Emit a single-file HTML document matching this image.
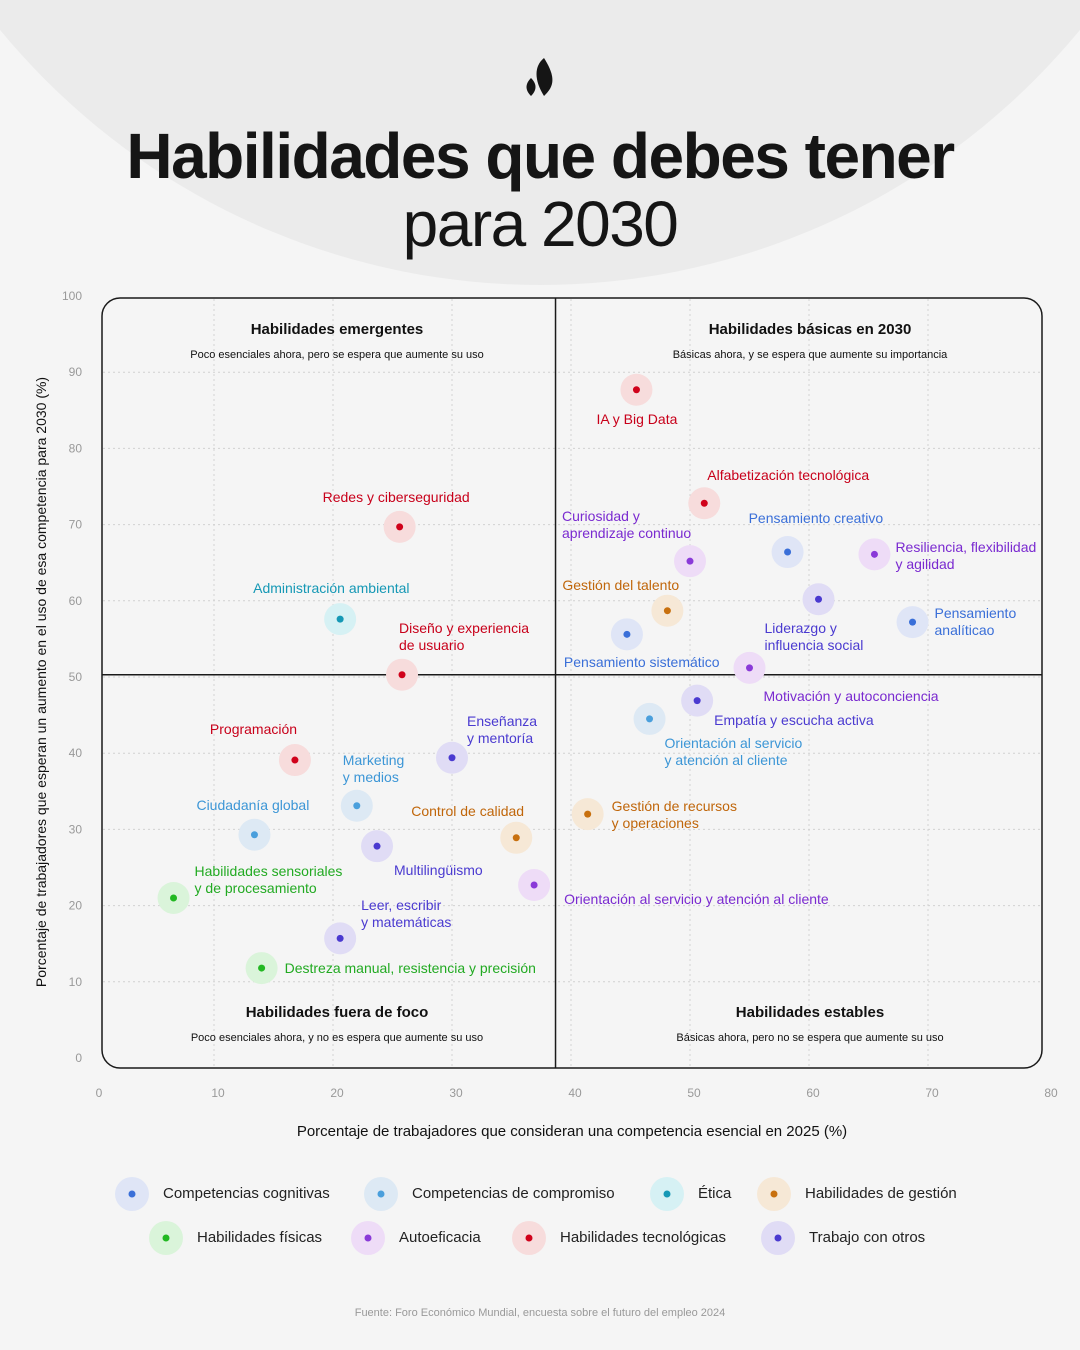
<!DOCTYPE html>
<html><head><meta charset="utf-8">
<style>
html,body{margin:0;padding:0}
body{width:1080px;height:1350px;position:relative;overflow:hidden;background:#f5f5f5;font-family:"Liberation Sans",sans-serif;color:#111}
#arcwrap{position:absolute;left:0;top:0;width:1080px;height:1350px;overflow:hidden}
#arc{position:absolute;left:-159px;top:-1113px;width:1398px;height:1398px;border-radius:50%;background:#ebebeb}
h1{position:absolute;left:0;width:1080px;top:122px;margin:0;text-align:center;font-size:64px;line-height:68px;font-weight:bold;letter-spacing:-1.5px;color:#151515}
h1 span{font-weight:normal}
.lbl{position:absolute;font-size:14px;line-height:17px;white-space:nowrap}
.legend{position:absolute;font-size:15px;color:#222}
</style></head><body>
<div id="arcwrap"><div id="arc"></div></div>
<svg style="position:absolute;left:522px;top:58px" width="36" height="40" viewBox="0 0 36 40">
<path d="M22 0 C12 8 12 22 22 38 C30 30 36 22 22 0Z" fill="#151515"/>
<path d="M9 20 C3 26 3 32 9 38 C15 32 15 26 9 20Z" fill="#151515"/>
</svg>
<h1>Habilidades que debes tener<br><span>para 2030</span></h1>
<svg id="chart" style="position:absolute;left:0;top:0" width="1080" height="1350"></svg>
<div id="labels"></div>
<div style="position:absolute;left:0;width:1080px;top:1307px;text-align:center;font-size:11px;color:#999">Fuente: Foro Económico Mundial, encuesta sobre el futuro del empleo 2024</div>
<script>
const xTicks=[0,10,20,30,40,50,60,70,80];
const yTicks=[0,10,20,30,40,50,60,70,80,90,100];
const names=["IA y Big Data","Alfabetización tecnológica","Redes y ciberseguridad","Administración ambiental","Diseño y experiencia<br>de usuario","Curiosidad y<br>aprendizaje continuo","Pensamiento creativo","Resiliencia, flexibilidad<br>y agilidad","Gestión del talento","Liderazgo y<br>influencia social","Pensamiento<br>analíticao","Pensamiento sistemático","Motivación y autoconciencia","Empatía y escucha activa","Orientación al servicio<br>y atención al cliente","Programación","Enseñanza<br>y mentoría","Marketing<br>y medios","Ciudadanía global","Control de calidad","Multilingüismo","Gestión de recursos<br>y operaciones","Orientación al servicio y atención al cliente","Habilidades sensoriales<br>y de procesamiento","Leer, escribir<br>y matemáticas","Destreza manual, resistencia y precisión"];
const xValues=[45.5,51.2,25.6,20.6,25.8,50,58.2,65.5,48.1,60.8,68.7,44.7,55,50.6,46.6,16.8,30,22,13.4,35.4,23.7,41.4,36.9,6.6,20.6,14];
const yValues=[87.7,72.8,69.7,57.6,50.3,65.2,66.4,66.1,58.7,60.2,57.2,55.6,51.2,46.9,44.5,39.1,39.4,33.1,29.3,28.9,27.8,32,22.7,21,15.7,11.8];
const groups=[6,6,6,2,6,5,0,5,3,7,0,0,5,7,1,6,7,1,1,3,7,3,5,4,7,4];
const labelDx=[-40,3,-77,-87,-3,-128,-39,21,-105,-54,22,-63,14,17,15,-85,15,-14,-58,-105,17,24,30,21,21,23];
const labelDy=[21,-36,-38,-39,-55,-53,-42,-15,-34,21,-17,20,20,11,16,-39,-45,-54,-38,-35,16,-16,6,-35,-41,-8];
const groupNames=["Competencias cognitivas","Competencias de compromiso","Ética","Habilidades de gestión","Habilidades físicas","Autoeficacia","Habilidades tecnológicas","Trabajo con otros"];
const dotColors=["#3a6fd8","#4a9fdc","#1598b5","#c8700e","#22b822","#8a3ad8","#d0021b","#4a3ad0"];
const haloColors=["#dfe5f6","#dde9f4","#d6f1f4","#f6e8d6","#daf4da","#eedcf7","#f7dcdc","#e0dcf5"];
const textColors=["#3a6fd8","#3c96d6","#1598b5","#c0660a","#22aa22","#7a2ad0","#c8001a","#4a3ad0"];
const xs=v=>95+11.9*v, ys=v=>1058-7.62*v;
const svg=document.getElementById('chart'), NS="http://www.w3.org/2000/svg";
function mk(t,a){const e=document.createElementNS(NS,t);for(const k in a)e.setAttribute(k,a[k]);svg.appendChild(e);return e;}
xTicks.forEach(t=>{if(t>0&&t<80){const l=mk('line',{x1:xs(t),x2:xs(t),y1:299,y2:1067,stroke:'#d2d2d2','stroke-dasharray':'2 3'});

}
const tx=mk('text',{x:xs(t)+4,y:1097,'font-size':12,fill:'#999','text-anchor':'middle'});tx.textContent=t;

});
yTicks.forEach(t=>{if(t>0&&t<100){const l=mk('line',{x1:103,x2:1041,y1:ys(t),y2:ys(t),stroke:'#d2d2d2','stroke-dasharray':'2 3'});

}
const tx=mk('text',{x:82,y:ys(t)+4,'font-size':12,fill:'#999','text-anchor':'end'});tx.textContent=t;

});
const box=mk('rect',{x:102,y:298,width:940,height:770,rx:18,fill:'none',stroke:'#1a1a1a','stroke-width':1.5});


const vx=xs(38.7), hy=ys(50.3);
const dv=mk('line',{x1:vx,x2:vx,y1:298,y2:1068,stroke:'#1a1a1a','stroke-width':1.5});


const dh=mk('line',{x1:102,x2:1042,y1:hy,y2:hy,stroke:'#1a1a1a','stroke-width':1.5});


const quads=[[337,329,"Habilidades emergentes","Poco esenciales ahora, pero se espera que aumente su uso"],[810,329,"Habilidades básicas en 2030","Básicas ahora, y se espera que aumente su importancia"],[337,1012,"Habilidades fuera de foco","Poco esenciales ahora, y no es espera que aumente su uso"],[810,1012,"Habilidades estables","Básicas ahora, pero no se espera que aumente su uso"]];
quads.forEach(q=>{const a=mk('text',{x:q[0],y:q[1]+5,'font-size':15,'font-weight':'bold','text-anchor':'middle',fill:'#111'});a.textContent=q[2];


const b=mk('text',{x:q[0],y:q[1]+29,'font-size':11,'text-anchor':'middle',fill:'#111'});b.textContent=q[3];

});
const xt=mk('text',{x:572,y:1136,'font-size':15,'text-anchor':'middle',fill:'#111'});xt.textContent="Porcentaje de trabajadores que consideran una competencia esencial en 2025 (%)";


const yt=mk('text',{x:0,y:0,'font-size':14,'text-anchor':'middle',fill:'#111',transform:'translate(46,682) rotate(-90)'});yt.textContent="Porcentaje de trabajadores que esperan un aumento en el uso de esa competencia para 2030 (%)";


const L=document.getElementById('labels');
xValues.forEach((v,i)=>{const cx=xs(v),cy=ys(yValues[i]),g=groups[i];
const h=mk('circle',{cx:cx,cy:cy,r:16,fill:haloColors[g]});


const d=mk('circle',{cx:cx,cy:cy,r:3.5,fill:dotColors[g]});


const t=document.createElement('div');t.className='lbl';t.innerHTML=names[i];
t.style.left=(cx+labelDx[i])+'px';t.style.top=(cy+labelDy[i])+'px';t.style.color=textColors[g];


L.appendChild(t);});
const legX=[132,381,667,774,166,368,529,778], legY=[1194,1194,1194,1194,1238,1238,1238,1238];
groupNames.forEach((n,i)=>{const h=mk('circle',{cx:legX[i],cy:legY[i],r:17,fill:haloColors[i]});


const d=mk('circle',{cx:legX[i],cy:legY[i],r:3.5,fill:dotColors[i]});


const t=document.createElement('div');t.className='legend';t.textContent=n;t.style.left=(legX[i]+31)+'px';t.style.top=(legY[i]-9)+'px';


L.appendChild(t);});
</script>
</body></html>
